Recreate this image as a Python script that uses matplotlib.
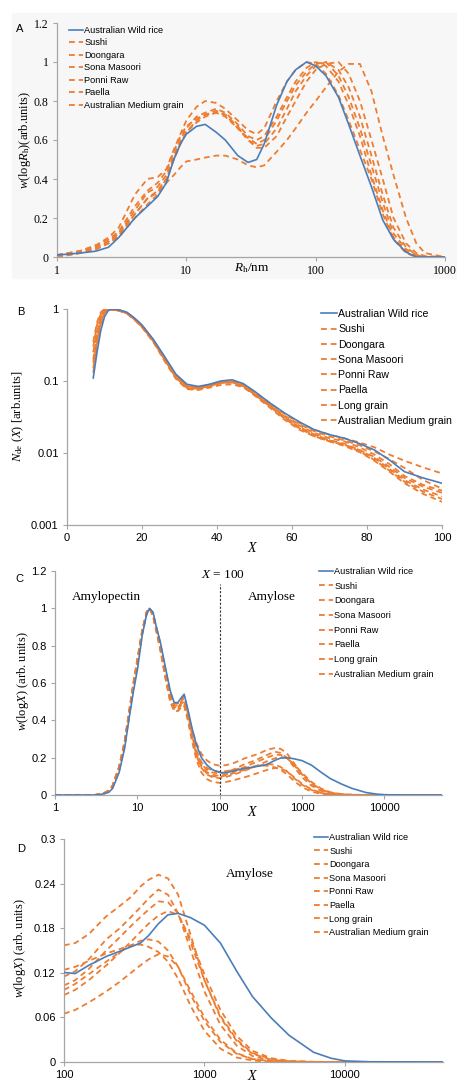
import numpy as np
import matplotlib
matplotlib.use('Agg')
import matplotlib.pyplot as plt
from matplotlib.patches import Rectangle

plt.rcParams['mathtext.fontset'] = 'custom'
plt.rcParams['mathtext.rm'] = 'Liberation Serif'
plt.rcParams['mathtext.it'] = 'Liberation Serif:italic'
plt.rcParams['font.family'] = ['Liberation Sans', 'DejaVu Sans']

BLUE = '#4a7ebb'
ORANGE = '#ed7d31'
GRID = '#a6a6a6'

# ---------------- panel A : SEC weight distribution of whole starch
names_a = ['Australian Wild rice', 'Sushi', 'Doongara', 'Sona Masoori',
           'Ponni Raw', 'Paella', 'Australian Medium grain']
rh = [1, 1.5, 2, 2.5, 3, 4, 5, 6, 7, 8, 9, 10, 12, 14, 17, 20, 25, 30, 35, 40,
      50, 60, 70, 85, 100, 120, 150, 180, 220, 270, 330, 400, 500, 600, 700, 1000]
a_wild = [0.01, 0.02, 0.03, 0.05, 0.1, 0.2, 0.26, 0.31, 0.38, 0.5, 0.58, 0.63, 0.67, 0.68, 0.64, 0.6,
          0.52, 0.485, 0.5, 0.58, 0.78, 0.9, 0.96, 1.0, 0.98, 0.93, 0.82, 0.68, 0.52, 0.36, 0.19,
          0.09, 0.025, 0.0, 0.0, 0.0]
a_sushi = [0.01, 0.03, 0.06, 0.1, 0.15, 0.32, 0.40, 0.41, 0.45, 0.55, 0.63, 0.70, 0.77, 0.80, 0.79,
           0.76, 0.70, 0.65, 0.63, 0.66, 0.80, 0.90, 0.96, 1.0, 0.99, 0.94, 0.83, 0.7, 0.55, 0.4,
           0.22, 0.09, 0.02, 0.0, 0.0, 0.0]
a_doongara = [0.01, 0.03, 0.05, 0.08, 0.12, 0.24, 0.33, 0.36, 0.42, 0.52, 0.6, 0.66, 0.72, 0.74, 0.76,
              0.74, 0.68, 0.62, 0.60, 0.62, 0.72, 0.82, 0.9, 0.97, 1.0, 0.98, 0.9, 0.78, 0.62, 0.42,
              0.24, 0.1, 0.03, 0.005, 0.0, 0.0]
a_sona = [0.01, 0.02, 0.05, 0.08, 0.12, 0.22, 0.3, 0.34, 0.4, 0.5, 0.58, 0.64, 0.7, 0.73, 0.75, 0.73,
          0.66, 0.6, 0.57, 0.58, 0.66, 0.76, 0.85, 0.93, 0.98, 1.0, 0.96, 0.87, 0.72, 0.52, 0.32,
          0.15, 0.05, 0.01, 0.0, 0.0]
a_ponni = [0.0, 0.02, 0.04, 0.07, 0.11, 0.22, 0.3, 0.33, 0.4, 0.5, 0.58, 0.64, 0.69, 0.72, 0.74, 0.73,
           0.67, 0.6, 0.56, 0.56, 0.62, 0.72, 0.8, 0.9, 0.96, 0.99, 1.0, 0.94, 0.8, 0.6, 0.4, 0.2,
           0.07, 0.02, 0.005, 0.0]
a_paella = [0.01, 0.03, 0.06, 0.09, 0.13, 0.26, 0.34, 0.38, 0.44, 0.54, 0.62, 0.67, 0.71, 0.73, 0.74,
            0.72, 0.66, 0.61, 0.58, 0.6, 0.7, 0.8, 0.88, 0.95, 0.99, 1.0, 0.93, 0.82, 0.66, 0.47,
            0.28, 0.12, 0.04, 0.01, 0.0, 0.0]
a_medium = [0.0, 0.02, 0.04, 0.07, 0.1, 0.2, 0.27, 0.32, 0.38, 0.42, 0.46, 0.49, 0.5, 0.51, 0.52, 0.52,
            0.5, 0.47, 0.46, 0.47, 0.54, 0.6, 0.66, 0.74, 0.8, 0.87, 0.95, 0.99, 0.99, 0.85, 0.62,
            0.42, 0.2, 0.07, 0.02, 0.0]
series_a = [a_wild, a_sushi, a_doongara, a_sona, a_ponni, a_paella, a_medium]

# ---------------- panel B : number CLD of debranched amylopectin
names_bcd = ['Australian Wild rice', 'Sushi', 'Doongara', 'Sona Masoori',
             'Ponni Raw', 'Paella', 'Long grain', 'Australian Medium grain']
xb = [7, 8, 9, 10, 11, 12, 14, 16, 18, 20, 23, 26, 29, 32, 35, 38, 41, 44, 47, 50,
      54, 58, 62, 66, 70, 74, 78, 82, 86, 90, 95, 100]
b_wild = [0.11, 0.25, 0.5, 0.78, 0.95, 1.0, 0.97, 0.9, 0.75, 0.6, 0.38, 0.22, 0.125, 0.09, 0.084, 0.09,
          0.1, 0.104, 0.092, 0.072, 0.05, 0.036, 0.027, 0.021, 0.018, 0.016, 0.0135, 0.011, 0.008,
          0.0055, 0.0045, 0.0038]
b_sushi = [0.2, 0.45, 0.75, 0.95, 1.0, 0.99, 0.95, 0.88, 0.72, 0.57, 0.36, 0.2, 0.115, 0.082, 0.08, 0.088,
           0.096, 0.098, 0.09, 0.07, 0.05, 0.035, 0.026, 0.021, 0.018, 0.016, 0.014, 0.012, 0.0095,
           0.0078, 0.0063, 0.0052]
b_doongara = [0.15, 0.35, 0.65, 0.9, 1.0, 0.99, 0.96, 0.88, 0.73, 0.58, 0.37, 0.21, 0.12, 0.085, 0.081,
              0.089, 0.098, 0.1, 0.088, 0.068, 0.047, 0.032, 0.024, 0.019, 0.016, 0.0145, 0.012,
              0.0095, 0.007, 0.0048, 0.0036, 0.003]
b_sona = [0.3, 0.6, 0.85, 0.98, 1.0, 0.98, 0.95, 0.87, 0.72, 0.57, 0.36, 0.2, 0.112, 0.08, 0.078, 0.085,
          0.094, 0.096, 0.085, 0.065, 0.045, 0.03, 0.022, 0.018, 0.015, 0.0135, 0.011, 0.0088, 0.0064,
          0.0045, 0.0034, 0.0028]
b_ponni = [0.18, 0.4, 0.7, 0.92, 1.0, 0.99, 0.96, 0.88, 0.73, 0.58, 0.37, 0.21, 0.118, 0.084, 0.08, 0.087,
           0.095, 0.097, 0.085, 0.066, 0.045, 0.031, 0.023, 0.018, 0.015, 0.013, 0.011, 0.0085, 0.006,
           0.0042, 0.0031, 0.0025]
b_paella = [0.25, 0.5, 0.8, 0.97, 1.0, 0.98, 0.95, 0.87, 0.71, 0.56, 0.35, 0.2, 0.11, 0.078, 0.077, 0.084,
            0.093, 0.095, 0.083, 0.063, 0.043, 0.029, 0.021, 0.017, 0.0145, 0.013, 0.0105, 0.008,
            0.0057, 0.004, 0.0029, 0.0023]
b_long = [0.13, 0.3, 0.6, 0.88, 0.99, 1.0, 0.96, 0.89, 0.74, 0.59, 0.37, 0.21, 0.12, 0.086, 0.082, 0.088,
          0.097, 0.099, 0.087, 0.067, 0.046, 0.031, 0.022, 0.017, 0.0145, 0.0125, 0.0103, 0.0078,
          0.0055, 0.0038, 0.0027, 0.0021]
b_medium = [0.35, 0.65, 0.9, 1.0, 0.99, 0.97, 0.94, 0.86, 0.71, 0.56, 0.35, 0.19, 0.108, 0.077, 0.075,
            0.081, 0.088, 0.09, 0.082, 0.065, 0.047, 0.033, 0.025, 0.02, 0.017, 0.015, 0.0128, 0.0105,
            0.0082, 0.0062, 0.0042, 0.0032]
series_b = [b_wild, b_sushi, b_doongara, b_sona, b_ponni, b_paella, b_long, b_medium]

# ---------------- panels C / D : weight CLD of debranched starch
x_ap = [1, 3, 3.5, 4, 4.5, 5, 6, 7, 8, 9, 10, 11.5, 13, 14, 15.5, 17, 19, 22, 25, 28,
        31, 34, 37, 41, 46, 52, 60, 70, 82]
ap_wild = [0, 0, 0.002, 0.008, 0.015, 0.035, 0.12, 0.25, 0.42, 0.56, 0.67, 0.86, 0.97, 1.0, 0.98, 0.9,
           0.82, 0.68, 0.56, 0.495, 0.495, 0.52, 0.54, 0.46, 0.36, 0.27, 0.2, 0.16, 0.135]
ap_sushi = [0, 0, 0.004, 0.012, 0.025, 0.05, 0.15, 0.28, 0.45, 0.6, 0.72, 0.88, 0.98, 1.0, 0.97, 0.89,
            0.8, 0.65, 0.53, 0.47, 0.47, 0.49, 0.5, 0.44, 0.35, 0.28, 0.22, 0.185, 0.165]
ap_doongara = [0, 0, 0.003, 0.01, 0.02, 0.045, 0.14, 0.27, 0.44, 0.59, 0.71, 0.87, 0.98, 1.0, 0.97, 0.89,
               0.8, 0.66, 0.54, 0.48, 0.48, 0.5, 0.52, 0.44, 0.33, 0.23, 0.165, 0.135, 0.12]
ap_sona = [0, 0, 0.003, 0.01, 0.022, 0.048, 0.15, 0.28, 0.45, 0.6, 0.72, 0.88, 0.98, 1.0, 0.96, 0.88,
           0.78, 0.63, 0.51, 0.45, 0.45, 0.47, 0.48, 0.41, 0.31, 0.22, 0.155, 0.122, 0.108]
ap_ponni = [0, 0, 0.002, 0.008, 0.018, 0.04, 0.13, 0.26, 0.43, 0.58, 0.7, 0.87, 0.97, 1.0, 0.97, 0.9,
            0.81, 0.67, 0.55, 0.49, 0.49, 0.51, 0.53, 0.45, 0.33, 0.21, 0.145, 0.11, 0.095]
ap_paella = [0, 0, 0.003, 0.01, 0.02, 0.045, 0.14, 0.27, 0.44, 0.59, 0.71, 0.87, 0.98, 1.0, 0.97, 0.89,
             0.79, 0.64, 0.52, 0.46, 0.46, 0.48, 0.49, 0.42, 0.32, 0.215, 0.15, 0.115, 0.1]
ap_long = [0, 0, 0.004, 0.012, 0.025, 0.05, 0.15, 0.29, 0.46, 0.61, 0.73, 0.89, 0.98, 1.0, 0.96, 0.88,
           0.78, 0.63, 0.51, 0.46, 0.47, 0.49, 0.5, 0.43, 0.33, 0.24, 0.175, 0.145, 0.13]
ap_medium = [0, 0, 0.003, 0.01, 0.022, 0.048, 0.15, 0.28, 0.45, 0.6, 0.72, 0.88, 0.98, 1.0, 0.96, 0.88,
             0.78, 0.62, 0.5, 0.45, 0.45, 0.47, 0.48, 0.4, 0.29, 0.19, 0.12, 0.085, 0.07]

x_am = [100, 120, 150, 200, 250, 300, 350, 400, 470, 550, 650, 800, 1000, 1300, 1700,
        2200, 3000, 4000, 6000, 8000, 10000, 15000, 50000]
am_wild = [0.1205, 0.119, 0.13, 0.142, 0.149, 0.155, 0.16, 0.17, 0.186, 0.198, 0.2, 0.194, 0.184,
           0.16, 0.122, 0.088, 0.059, 0.036, 0.013, 0.005, 0.0015, 0.0003, 0.0]
am_sushi = [0.157, 0.16, 0.172, 0.196, 0.21, 0.222, 0.236, 0.245, 0.252, 0.247, 0.225, 0.17, 0.11,
            0.06, 0.028, 0.011, 0.003, 0.001, 0, 0, 0, 0, 0]
am_doongara = [0.115, 0.122, 0.138, 0.165, 0.18, 0.195, 0.208, 0.22, 0.232, 0.225, 0.2, 0.15, 0.095,
               0.05, 0.022, 0.008, 0.002, 0.0005, 0, 0, 0, 0, 0]
am_sona = [0.103, 0.11, 0.125, 0.15, 0.168, 0.183, 0.195, 0.205, 0.216, 0.215, 0.2, 0.16, 0.11,
           0.062, 0.03, 0.012, 0.004, 0.001, 0, 0, 0, 0, 0]
am_ponni = [0.09, 0.097, 0.11, 0.13, 0.147, 0.162, 0.175, 0.186, 0.197, 0.203, 0.198, 0.165, 0.118,
            0.07, 0.035, 0.015, 0.005, 0.0015, 0.0003, 0, 0, 0, 0]
am_paella = [0.097, 0.105, 0.118, 0.135, 0.148, 0.157, 0.163, 0.165, 0.162, 0.15, 0.128, 0.09, 0.055,
             0.027, 0.011, 0.004, 0.001, 0, 0, 0, 0, 0, 0]
am_long = [0.124, 0.128, 0.136, 0.146, 0.152, 0.157, 0.158, 0.155, 0.148, 0.135, 0.112, 0.075, 0.042,
           0.018, 0.006, 0.002, 0, 0, 0, 0, 0, 0, 0]
am_medium = [0.065, 0.07, 0.08, 0.095, 0.108, 0.12, 0.13, 0.138, 0.145, 0.142, 0.128, 0.095, 0.06,
             0.03, 0.012, 0.004, 0.001, 0, 0, 0, 0, 0, 0]
series_ap = [ap_wild, ap_sushi, ap_doongara, ap_sona, ap_ponni, ap_paella, ap_long, ap_medium]
series_am = [am_wild, am_sushi, am_doongara, am_sona, am_ponni, am_paella, am_long, am_medium]

SERIF = 'Liberation Serif'
SANS = 'Liberation Sans'

W, H = 457, 1084
fig = plt.figure(figsize=(W / 100, H / 100), dpi=100)


def box(l, t, r, b):
    return [l / W, 1 - b / H, (r - l) / W, (b - t) / H]


def draw(ax, x, ys, names):
    for i, (y, n) in enumerate(zip(ys, names)):
        if i == 0:
            ax.plot(x, y, color=BLUE, lw=1.2, label=n, zorder=3)
        else:
            ax.plot(x, y, color=ORANGE, lw=1.3, ls=(0, (3.2, 2.2)), label=n, zorder=2)


def style(ax, tickfont, fs):
    for s in ['top', 'right']:
        ax.spines[s].set_visible(False)
    for s in ['left', 'bottom']:
        ax.spines[s].set_color(GRID)
        ax.spines[s].set_linewidth(0.9)
    ax.tick_params(which='both', color=GRID, length=3, width=0.8, pad=3)
    ax.tick_params(which='minor', length=0)
    for lab in ax.get_xticklabels() + ax.get_yticklabels():
        lab.set_family(tickfont)
        lab.set_fontsize(fs)


def labels(ax, ylab, yx, yy, xlab, xx, xy, xfs):
    ax.set_ylabel(ylab, family=SERIF, fontsize=9)
    ax.yaxis.set_label_coords(yx / W, 1 - yy / H, transform=fig.transFigure)
    ax.set_xlabel(xlab, family=SERIF, fontsize=xfs)
    ax.xaxis.set_label_coords(xx / W, 1 - xy / H, transform=fig.transFigure)
    ax.xaxis.label.set_va('center')
    ax.yaxis.label.set_va('center')


def legend(ax, x, top, fs, spacing):
    ax.legend(loc='upper left', bbox_to_anchor=(x / W, 1 - top / H), bbox_transform=fig.transFigure,
              frameon=False, handlelength=1.5, handletextpad=0.15,
              labelspacing=spacing, borderpad=0, borderaxespad=0, prop={'family': SANS, 'size': fs})


# background of panel A
fig.patches.append(Rectangle((12 / W, 1 - 278 / H), (W - 12) / W, 265 / H,
                             transform=fig.transFigure, color='#f7f7f7', zorder=-10))

# ---- A
axA = fig.add_axes(box(57, 23, 445, 257))
axA.set_facecolor('#f7f7f7')
draw(axA, rh, series_a, names_a)
axA.set_xscale('log')
axA.set_xlim(1, 1000)
axA.set_ylim(0, 1.2)
axA.set_xticks([1, 10, 100, 1000])
axA.set_xticklabels(['1', '10', '100', '1000'])
axA.set_yticks([0, 0.2, 0.4, 0.6, 0.8, 1.0, 1.2])
axA.set_yticklabels(['0', '0.2', '0.4', '0.6', '0.8', '1', '1.2'])
style(axA, SERIF, 8.5)
labels(axA, r'$w$(log$R_{\rm h}$)(arb.units)', 25, 140, r'$R_{\rm h}$/nm', 252, 268, 9.5)
legend(axA, 69, 26, 6.6, 0.38)
fig.text(20 / W, 1 - 29 / H, 'A', family=SANS, fontsize=8, va='center', ha='center')

# ---- B
axB = fig.add_axes(box(67, 309, 442, 525))
draw(axB, xb, series_b, names_bcd)
axB.set_yscale('log')
axB.set_xlim(0, 100)
axB.set_ylim(0.001, 1)
axB.set_xticks([0, 20, 40, 60, 80, 100])
axB.set_yticks([0.001, 0.01, 0.1, 1])
axB.set_yticklabels(['0.001', '0.01', '0.1', '1'])
style(axB, SANS, 8)
labels(axB, r'$N_{\rm de}$ ($X$) [arb.units]', 18, 416, r'$X$', 253, 548, 10)
legend(axB, 321, 309, 7.6, 0.5)
fig.text(21 / W, 1 - 312 / H, 'B', family=SANS, fontsize=8, va='center', ha='center')

# ---- C
axC = fig.add_axes(box(55, 571, 442, 795))
x_c = x_ap + x_am
series_c = [ap + am for ap, am in zip(series_ap, series_am)]
draw(axC, x_c, series_c, names_bcd)
axC.set_xscale('log')
axC.set_xlim(1, 50000)
axC.set_ylim(0, 1.2)
axC.set_xticks([1, 10, 100, 1000, 10000])
axC.set_xticklabels(['1', '10', '100', '1000', '10000'])
axC.set_yticks([0, 0.2, 0.4, 0.6, 0.8, 1.0, 1.2])
axC.set_yticklabels(['0', '0.2', '0.4', '0.6', '0.8', '1', '1.2'])
style(axC, SANS, 8)
axC.plot([100, 100], [0, 1.13], color='#333333', lw=0.8, ls=(0, (2, 1.5)))
axC.text(110, 1.18, r'$X$ = 100', family=SERIF, fontsize=9.5, ha='center', va='center')
axC.text(4.2, 1.06, 'Amylopectin', family=SERIF, fontsize=9.5, ha='center', va='center')
axC.text(430, 1.06, 'Amylose', family=SERIF, fontsize=9.5, ha='center', va='center')
labels(axC, r'$w$(log$X$) (arb. units)', 23, 681, r'$X$', 253, 812, 10)
legend(axC, 319, 567, 6.6, 0.62)
fig.text(19 / W, 1 - 579 / H, 'C', family=SANS, fontsize=8, va='center', ha='center')

# ---- D
axD = fig.add_axes(box(64, 839, 443, 1062))
draw(axD, x_am, series_am, names_bcd)
axD.set_xscale('log')
axD.set_xlim(100, 50000)
axD.set_ylim(0, 0.3)
axD.set_xticks([100, 1000, 10000])
axD.set_xticklabels(['100', '1000', '10000'])
axD.set_yticks([0, 0.06, 0.12, 0.18, 0.24, 0.3])
axD.set_yticklabels(['0', '0.06', '0.12', '0.18', '0.24', '0.3'])
style(axD, SANS, 8)
axD.text(2100, 0.253, 'Amylose', family=SERIF, fontsize=9.5, ha='center', va='center')
labels(axD, r'$w$(log$X$) (arb. units)', 20, 948, r'$X$', 253, 1076, 10)
legend(axD, 314, 833, 6.6, 0.5)
fig.text(21 / W, 1 - 849 / H, 'D', family=SANS, fontsize=8, va='center', ha='center')

fig.savefig('out.png', dpi=100, facecolor='white')
